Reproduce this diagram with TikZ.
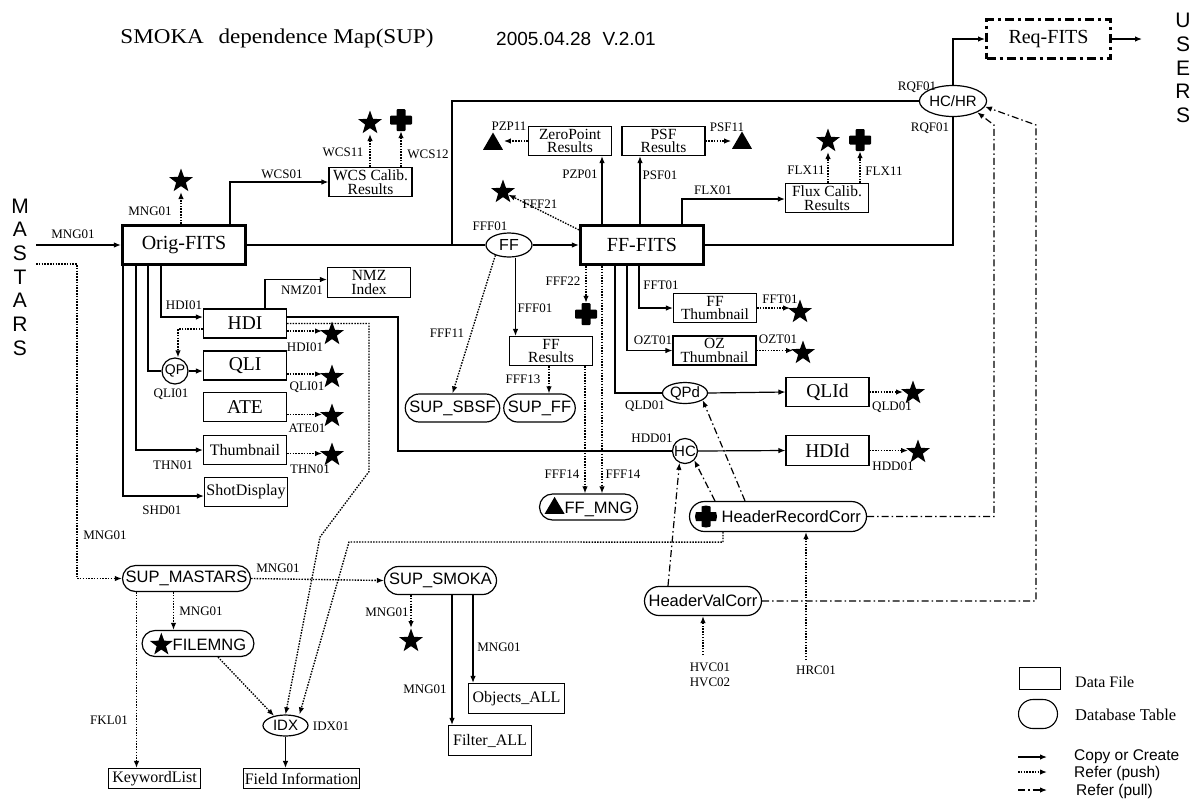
\documentclass[tikz,border=0pt]{standalone}
\usepackage{fontspec}
\setmainfont{Liberation Serif}
\setsansfont{Liberation Sans}
\newfontfamily\titlefont[FakeStretch=1.1]{Liberation Serif}
\usetikzlibrary{arrows.meta,shapes.geometric,shapes.misc}
\tikzset{
 ln/.style={line width=1.2pt},
 cp/.style={ln,-{Latex[length=7pt,width=5.5pt]}},
 push/.style={cp,line width=1.35pt,dash pattern=on 1.5pt off 1.3pt},
 pull/.style={cp,dash pattern=on 7pt off 3pt on 1.5pt off 3pt},
 file/.style={draw,line width=1.1pt,inner sep=0pt,align=center,minimum width=83pt,minimum height=29pt,font=\fontsize{15.5}{13.5}\selectfont},
 bigtxt/.style={font=\fontsize{19.5}{22}\selectfont},
 bigfile/.style={file,line width=3.2pt,minimum width=123pt,minimum height=39pt,font=\fontsize{20}{22}\selectfont},
 db/.style={draw,rounded rectangle,line width=1.2pt,inner xsep=2pt,inner ysep=0pt,minimum height=28pt,font=\sffamily\fontsize{16.5}{18}\selectfont},
 ell/.style={draw,ellipse,line width=1.2pt,inner sep=0pt,font=\sffamily\fontsize{15}{17}\selectfont},
 lab/.style={inner sep=0pt,font=\fontsize{13}{14}\selectfont},
 legtxt/.style={inner sep=0pt,anchor=west},
 starmark/.style={star,star points=5,star point ratio=2.45,fill,inner sep=0pt,minimum size=25pt},
 crossmark/.style={inner sep=0pt,minimum size=22pt,path picture={
   \fill[rounded corners=1pt] ([xshift=-11pt,yshift=-4.5pt]path picture bounding box.center) rectangle ++(22pt,9pt);
   \fill[rounded corners=1pt] ([xshift=-4.5pt,yshift=-11pt]path picture bounding box.center) rectangle ++(9pt,22pt);}},
 trimark/.style={regular polygon,regular polygon sides=3,fill,inner sep=0pt,minimum size=23pt},
}
\begin{document}
\begin{tikzpicture}[x=1pt,y=-1pt]
\useasboundingbox (0,0) rectangle (1199,807);

% ---------- titles and side words
\node[inner sep=0pt,font=\titlefont\fontsize{21}{24}\selectfont] (title) at (277,38) {SMOKA\hspace{9pt} dependence Map(SUP)};
\node[inner sep=0pt,font=\sffamily\fontsize{19}{22}\selectfont] (date) at (576,39) {2005.04.28\hspace{6pt} V.2.01};
\node[align=center,inner sep=0pt,font=\sffamily\fontsize{21}{23.7}\selectfont] (mastars) at (20,277) {M\\A\\S\\T\\A\\R\\S};
\node[align=center,inner sep=0pt,font=\sffamily\fontsize{21}{23.7}\selectfont] (users) at (1183,68) {U\\S\\E\\R\\S};

% ---------- main files
\node[bigfile] (orig) at (184,245) {Orig-FITS};
\node[bigfile] (fffits) at (642,245) {FF-FITS};
\node[ell,minimum width=46pt,minimum height=24pt,font=\sffamily\fontsize{16}{18}\selectfont] (ff) at (509,245) {FF};
\node[ell,minimum width=50pt,minimum height=31pt] (hchr) at (953,101) {HC/HR};
\node[draw,line width=3pt,dash pattern=on 9pt off 4pt on 3pt off 4pt,minimum width=124pt,minimum height=39pt,inner sep=0pt,font=\fontsize{20}{22}\selectfont] (req) at (1048.5,39) {Req-FITS};

\node[file] (wcs) at (370.5,182) {WCS Calib.\\Results};
\node[file] (zp) at (570,141) {ZeroPoint\\Results};
\node[file] (psf) at (663.5,141) {PSF\\Results};
\node[file] (flux) at (827,198) {Flux Calib.\\Results};
\node[file,minimum height=30pt] (nmz) at (369,282.5) {NMZ\\Index};
\node[file,bigtxt] (hdi) at (245,323.5) {HDI};
\node[file,bigtxt] (qli) at (245,365.5) {QLI};
\node[file,bigtxt] (ate) at (245,407) {ATE};
\node[file,font=\fontsize{16}{18}\selectfont] (thumb) at (245,450) {Thumbnail};
\node[file,font=\fontsize{16}{18}\selectfont] (shot) at (246,492) {ShotDisplay};
\node[ell,circle,minimum size=26pt,font=\sffamily\fontsize{14}{16}\selectfont] (qp) at (175,371) {QP};
\node[file] (ffres) at (551,351) {FF\\Results};
\node[file] (ffthumb) at (715,308) {FF\\Thumbnail};
\node[file] (ozthumb) at (714.5,350.5) {OZ\\Thumbnail};
\node[ell,minimum width=45pt,minimum height=21pt] (qpd) at (685,393) {QPd};
\node[file,bigtxt] (qlid) at (827.5,392) {QLId};
\node[file,bigtxt,minimum height=30pt] (hdid) at (827.5,450.5) {HDId};
\node[ell,circle,minimum size=25pt] (hc) at (685,451) {HC};

% ---------- database tables
\node[db,minimum width=92pt] (supsbsf) at (452.5,408) {SUP\_SBSF};
\node[db,minimum width=68pt] (supff) at (539.5,408) {SUP\_FF};
\node[db,minimum width=102pt,minimum height=26pt] (ffmng) at (588.5,507) {\tikz[baseline=0pt]\fill (0pt,0pt)--(20pt,0pt)--(10pt,17pt)--cycle;FF\_MNG};
\node[db,minimum width=181pt,minimum height=30pt] (hrc) at (778,516.5) {\tikz[baseline=-6pt]\node[crossmark]{}; HeaderRecordCorr};
\node[db,minimum width=121pt,minimum height=29pt] (hvc) at (703,601) {HeaderValCorr};
\node[db,minimum width=132pt,minimum height=26pt] (supmastars) at (186.5,578.5) {SUP\_MASTARS};
\node[db,minimum width=116pt] (supsmoka) at (440.5,580.5) {SUP\_SMOKA};
\node[db,minimum width=101pt,minimum height=26pt] (filemng) at (198,643.5) {\tikz[baseline=-6pt]\node[starmark,minimum size=24pt]{};FILEMNG};
\node[ell,minimum width=45pt,minimum height=21pt] (idx) at (285.5,725.5) {IDX};
\node[file,font=\fontsize{16}{18}\selectfont,minimum width=116pt,minimum height=20pt] (fieldinfo) at (301.5,778.5) {Field Information};
\node[file,font=\fontsize{16}{18}\selectfont,minimum width=92pt,minimum height=20pt] (keyword) at (154.5,778.5) {KeywordList};
\node[file,font=\fontsize{16}{18}\selectfont,minimum height=30pt] (filter) at (490,740.5) {Filter\_ALL};
\node[file,font=\fontsize{16}{18}\selectfont,minimum width=96pt,minimum height=30pt] (objects) at (516.5,698.5) {Objects\_ALL};

% ---------- marks
\node[starmark] (sorig) at (181,181) {};
\node[starmark] (swcs) at (370,123) {};
\node[crossmark] (cwcs) at (401,120) {};
\node[trimark] (tzp) at (493,144) {};
\node[trimark] (tpsf) at (742,143) {};
\node[starmark] (sflux) at (828,141) {};
\node[crossmark] (cflux) at (860,140) {};
\node[starmark] (sfff) at (503,192) {};
\node[crossmark] (cfff) at (586,314) {};
\node[starmark] (shdi) at (332,334) {};
\node[starmark] (sqli) at (332,377) {};
\node[starmark] (sate) at (332,416) {};
\node[starmark] (sthn) at (332,455) {};
\node[starmark] (sfft) at (800,312) {};
\node[starmark] (sozt) at (803,353) {};
\node[starmark] (sqld) at (913,393) {};
\node[starmark] (shdd) at (918,452) {};
\node[starmark] (ssmoka) at (411,641) {};

% ---------- free ends
\coordinate (mIn) at (36,245);
\coordinate (mIn2) at (36,264);
\coordinate (uOut) at (1142,39);
\coordinate (j1) at (452,245);
\coordinate (hvcIn) at (703,655);
\coordinate (hrcIn) at (806,660);

% ---------- connectors: copy / create
\draw[cp] (mIn) -- (orig.west);
\draw[cp] ([xshift=46pt]orig.north) |- (wcs.west);
\draw[ln] (orig.east) -- (ff.west);
\draw[cp] (ff.east) -- (fffits.west);
\draw[ln] (j1) |- (hchr.west);
\draw[ln] (fffits.east) -| (hchr.south);
\draw[cp] (hchr.north) |- (req.west);
\draw[cp] (req.east) -- (uOut);
\draw[cp] ([xshift=-40pt]fffits.north) -- ([xshift=-40pt]fffits.north |- zp.south);
\draw[cp] ([xshift=-2pt]fffits.north) -- ([xshift=-2pt]fffits.north |- psf.south);
\draw[cp] ([xshift=40pt]fffits.north) |- ([yshift=-1pt]flux.west);
\draw[cp] ([xshift=6.5pt]ff.south) -- ([xshift=6.5pt]ff.south |- ffres.north);
\draw[cp] ([xshift=-3pt]fffits.south) |- (ffthumb.west);
\draw[cp] ([xshift=-15pt]fffits.south) |- (ozthumb.west);
\draw[ln] ([xshift=-27pt]fffits.south) |- (qpd.west);
\draw[cp] (qpd.east) -- (qlid.west);
\draw[ln] ([yshift=6.5pt]hdi.east) -- ++(111,0) |- (hc.west);
\draw[cp] (hc.east) -- (hdid.west);
\draw[cp] ([xshift=-23pt]orig.south) |- ([yshift=6.5pt]hdi.west);
\draw[ln] ([xshift=-36pt]orig.south) |- (qp.west);
\draw[cp] (qp.east) -- (qli.west |- qp.east);
\draw[cp] ([xshift=-48pt]orig.south) |- (thumb.west);
\draw[cp] ([xshift=-61pt]orig.south) |- ([yshift=-4pt]shot.west);
\draw[cp] ([xshift=20pt]hdi.north) |- ([yshift=3pt]nmz.west);
\draw[cp] (idx.south) -- (idx.south |- fieldinfo.north);
\draw[cp] ([xshift=11.5pt]supsmoka.south) -- ([xshift=11.5pt]supsmoka.south |- filter.north);
\draw[cp] ([xshift=32.5pt]supsmoka.south) -- ([xshift=32.5pt]supsmoka.south |- objects.north);

% ---------- connectors: refer (push)
\draw[push] (mIn2) -- (77,264) |- (supmastars.west);
\draw[push] (orig.north -| sorig) -- ([yshift=-11pt]sorig.center);
\draw[push] (wcs.north -| swcs) -- ([yshift=-11pt]swcs.center);
\draw[push] (wcs.north -| cwcs) -- (cwcs.south);
\draw[push] (zp.west) -- ([xshift=4pt]zp.west -| tzp.east);
\draw[push] (psf.east) -- ([xshift=-4pt]psf.east -| tpsf.west);
\draw[push] (flux.north -| sflux) -- ([yshift=-11pt]sflux.center);
\draw[push] (flux.north -| cflux) -- (cflux.south);
\draw[push] ([yshift=-6pt]fffits.north west) -- (sfff);
\draw[push] (fffits.south -| cfff) -- (cfff.north);
\draw[push] ([xshift=-40pt]fffits.south) -- ([xshift=-40pt]fffits.south |- ffmng.north);
\draw[push] ([xshift=34pt]ffres.south) -- ([xshift=34pt]ffres.south |- ffmng.north);
\draw[push] (ff.217) -- (supsbsf.north);
\draw[push] ([xshift=-2pt]ffres.south) -- ([xshift=-2pt]ffres.south |- supff.north);
\draw[push] (ffthumb.east) -- ([xshift=-10pt]ffthumb.east -| sfft);
\draw[push] (ozthumb.east) -- ([xshift=-10pt]ozthumb.east -| sozt);
\draw[push] (qlid.east) -- ([xshift=-10pt]qlid.east -| sqld);
\draw[push] (hdid.east) -- ([xshift=-10pt]hdid.east -| shdd);
\draw[push] ([yshift=-7.5pt]hdi.east) -- ([xshift=-10pt,yshift=-7.5pt]hdi.east -| shdi);
\draw[push] ([yshift=-8.5pt]qli.east) -- ([xshift=-10pt,yshift=-8.5pt]qli.east -| sqli);
\draw[push] ([yshift=-7.5pt]ate.east) -- ([xshift=-10pt,yshift=-7.5pt]ate.east -| sate);
\draw[push] ([yshift=-3.5pt]thumb.east) -- ([xshift=-10pt,yshift=-3.5pt]thumb.east -| sthn);
\draw[push] ([yshift=-5.5pt]hdi.west) -| ([xshift=3pt]qp.north);
\draw[push] (hdi.east) -- ++(82,0) -- ++(0,148) -- (320,537) -- (idx.north);
\draw[push] ([xshift=-55pt]hrc.south) -- ++(0,10) -- (349,542) -- ([xshift=14pt]idx.north);
\draw[push] ([xshift=-13pt]supmastars.south) -- ([xshift=-13pt]supmastars.south |- filemng.north);
\draw[push] ([xshift=-50pt]supmastars.south) -- ([xshift=-50pt]supmastars.south |- keyword.north);
\draw[push] (supmastars.east) -- (supsmoka.west);
\draw[push] ([xshift=20pt]filemng.south) -- (idx.140);
\draw[push] (supsmoka.south -| ssmoka) -- ([yshift=13pt]ssmoka.center);
\draw[push] (hvcIn) -- (hvc.south);
\draw[push] (hrcIn) -- (hrcIn |- hrc.south);

% ---------- connectors: refer (pull)
\draw[pull] ([xshift=-63pt]hrc.north) -- (hc.-45);
\draw[pull] ([xshift=-33pt]hrc.north) -- (qpd.-22);
\draw[pull] ([xshift=-35pt]hvc.north) -- (hc.-115);
\draw[pull] (hrc.east) -- (994,516.5) -- (994,125) -- (hchr.-25);
\draw[pull] (hvc.east) -- (1036,601) -- (1036,125) -- (hchr.-10);

% ---------- labels
\node[lab] (a1) at (73,234) {MNG01};
\node[lab] (a2) at (150,211) {MNG01};
\node[lab] (a3) at (282,174) {WCS01};
\node[lab] (a4) at (343,152) {WCS11};
\node[lab] (a5) at (428,154) {WCS12};
\node[lab] (a6) at (509,126) {PZP11};
\node[lab] (a7) at (727,127) {PSF11};
\node[lab] (a8) at (580,174) {PZP01};
\node[lab] (a9) at (660,175) {PSF01};
\node[lab] (a10) at (713,190) {FLX01};
\node[lab] (a11) at (806,170) {FLX11};
\node[lab] (a12) at (884,171) {FLX11};
\node[lab] (a13) at (540,204) {FFF21};
\node[lab] (a14) at (490,226) {FFF01};
\node[lab] (a15) at (917,87) {RQF01};
\node[lab] (a16) at (930,128) {RQF01};
\node[lab] (a17) at (563,281) {FFF22};
\node[lab] (a18) at (535,308) {FFF01};
\node[lab] (a19) at (447,333) {FFF11};
\node[lab] (a20) at (523,379) {FFF13};
\node[lab] (a21) at (661,285) {FFT01};
\node[lab] (a22) at (653,340) {OZT01};
\node[lab] (a23) at (780,299) {FFT01};
\node[lab] (a24) at (778,339) {OZT01};
\node[lab] (a25) at (645,406) {QLD01};
\node[lab] (a26) at (892,407) {QLD01};
\node[lab] (a27) at (652,438) {HDD01};
\node[lab] (a28) at (893,466) {HDD01};
\node[lab] (a29) at (562,474) {FFF14};
\node[lab] (a30) at (623,474) {FFF14};
\node[lab] (a31) at (302,290) {NMZ01};
\node[lab] (a32) at (184,305) {HDI01};
\node[lab] (a33) at (305,347) {HDI01};
\node[lab] (a34) at (171,394) {QLI01};
\node[lab] (a35) at (307,387) {QLI01};
\node[lab] (a36) at (307,428) {ATE01};
\node[lab] (a37) at (173,465) {THN01};
\node[lab] (a38) at (310,469) {THN01};
\node[lab] (a39) at (162,510) {SHD01};
\node[lab] (a40) at (105,535) {MNG01};
\node[lab] (a41) at (278,568) {MNG01};
\node[lab] (a42) at (201,611) {MNG01};
\node[lab] (a43) at (387,612) {MNG01};
\node[lab] (a44) at (499,647) {MNG01};
\node[lab] (a45) at (425,689) {MNG01};
\node[lab] (a46) at (109,720) {FKL01};
\node[lab] (a47) at (331,726) {IDX01};
\node[lab,align=center,font=\fontsize{13}{15}\selectfont] (a48) at (710,675) {HVC01\\HVC02};
\node[lab] (a49) at (816,670) {HRC01};

% ---------- legend
\node[draw,line width=1.1pt,minimum width=41pt,minimum height=22pt,inner sep=0pt] (legfile) at (1040,678.5) {};
\node[draw,rounded rectangle,line width=1.1pt,minimum width=39pt,minimum height=29pt,inner sep=0pt] (legdb) at (1038,714) {};
\node[legtxt,font=\fontsize{16}{18}\selectfont] (tfile) at (1075,682) {Data File};
\node[legtxt,font=\fontsize{16.5}{18}\selectfont] (tdb) at (1075,715) {Database Table};
\coordinate (l1a) at (1018,757); \coordinate (l1b) at (1047,757);
\coordinate (l2a) at (1018,772); \coordinate (l2b) at (1047,772);
\coordinate (l3a) at (1018,790); \coordinate (l3b) at (1047,790);
\draw[cp] (l1a) -- (l1b);
\draw[push] (l2a) -- (l2b);
\draw[pull] (l3a) -- (l3b);
\node[legtxt,font=\sffamily\fontsize{15.5}{18}\selectfont] (t1) at (1074,757) {Copy or Create};
\node[legtxt,font=\sffamily\fontsize{15.5}{18}\selectfont] (t2) at (1074,773) {Refer (push)};
\node[legtxt,font=\sffamily\fontsize{15.5}{18}\selectfont] (t3) at (1076,791) {Refer (pull)};
\end{tikzpicture}
\end{document}
